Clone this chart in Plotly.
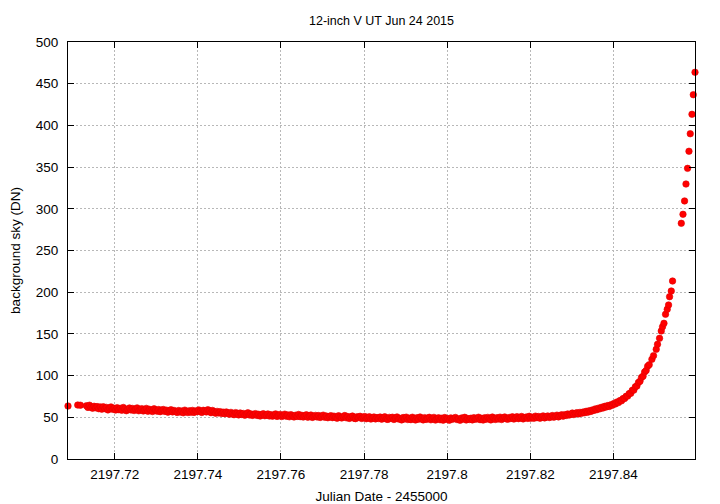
import plotly.graph_objects as go

# Julian Date - 2455000 and background sky (DN)
jd_start = [2197.70875, 2197.71109, 2197.71174]
sky_start = [63.5, 64.7, 64.5]

jd_main = [
    2197.71318, 2197.71355, 2197.71392, 2197.71429, 2197.71466, 2197.71503, 2197.71540, 2197.71577, 2197.71614, 2197.71651,
    2197.71688, 2197.71725, 2197.71762, 2197.71799, 2197.71836, 2197.71873, 2197.71910, 2197.71947, 2197.71984, 2197.72021,
    2197.72058, 2197.72095, 2197.72132, 2197.72169, 2197.72206, 2197.72243, 2197.72280, 2197.72317, 2197.72354, 2197.72391,
    2197.72428, 2197.72465, 2197.72502, 2197.72539, 2197.72576, 2197.72613, 2197.72650, 2197.72687, 2197.72724, 2197.72761,
    2197.72798, 2197.72835, 2197.72872, 2197.72909, 2197.72946, 2197.72983, 2197.73020, 2197.73057, 2197.73094, 2197.73131,
    2197.73168, 2197.73205, 2197.73242, 2197.73279, 2197.73316, 2197.73353, 2197.73390, 2197.73427, 2197.73464, 2197.73501,
    2197.73538, 2197.73575, 2197.73612, 2197.73649, 2197.73686, 2197.73723, 2197.73760, 2197.73797, 2197.73834, 2197.73871,
    2197.73908, 2197.73945, 2197.73982, 2197.74019, 2197.74056, 2197.74093, 2197.74130, 2197.74167, 2197.74204, 2197.74241,
    2197.74278, 2197.74315, 2197.74352, 2197.74389, 2197.74426, 2197.74463, 2197.74500, 2197.74537, 2197.74574, 2197.74611,
    2197.74648, 2197.74685, 2197.74722, 2197.74759, 2197.74796, 2197.74833, 2197.74870, 2197.74907, 2197.74944, 2197.74981,
    2197.75018, 2197.75055, 2197.75092, 2197.75129, 2197.75166, 2197.75203, 2197.75240, 2197.75277, 2197.75314, 2197.75351,
    2197.75388, 2197.75425, 2197.75462, 2197.75499, 2197.75536, 2197.75573, 2197.75610, 2197.75647, 2197.75684, 2197.75721,
    2197.75758, 2197.75795, 2197.75832, 2197.75869, 2197.75906, 2197.75943, 2197.75980, 2197.76017, 2197.76054, 2197.76091,
    2197.76128, 2197.76165, 2197.76202, 2197.76239, 2197.76276, 2197.76313, 2197.76350, 2197.76387, 2197.76424, 2197.76461,
    2197.76498, 2197.76535, 2197.76572, 2197.76609, 2197.76646, 2197.76683, 2197.76720, 2197.76757, 2197.76794, 2197.76831,
    2197.76868, 2197.76905, 2197.76942, 2197.76979, 2197.77016, 2197.77053, 2197.77090, 2197.77127, 2197.77164, 2197.77201,
    2197.77238, 2197.77275, 2197.77312, 2197.77349, 2197.77386, 2197.77423, 2197.77460, 2197.77497, 2197.77534, 2197.77571,
    2197.77608, 2197.77645, 2197.77682, 2197.77719, 2197.77756, 2197.77793, 2197.77830, 2197.77867, 2197.77904, 2197.77941,
    2197.77978, 2197.78015, 2197.78052, 2197.78089, 2197.78126, 2197.78163, 2197.78200, 2197.78237, 2197.78274, 2197.78311,
    2197.78348, 2197.78385, 2197.78422, 2197.78459, 2197.78496, 2197.78533, 2197.78570, 2197.78607, 2197.78644, 2197.78681,
    2197.78718, 2197.78755, 2197.78792, 2197.78829, 2197.78866, 2197.78903, 2197.78940, 2197.78977, 2197.79014, 2197.79051,
    2197.79088, 2197.79125, 2197.79162, 2197.79199, 2197.79236, 2197.79273, 2197.79310, 2197.79347, 2197.79384, 2197.79421,
    2197.79458, 2197.79495, 2197.79532, 2197.79569, 2197.79606, 2197.79643, 2197.79680, 2197.79717, 2197.79754, 2197.79791,
    2197.79828, 2197.79865, 2197.79902, 2197.79939, 2197.79976, 2197.80013, 2197.80050, 2197.80087, 2197.80124, 2197.80161,
    2197.80198, 2197.80235, 2197.80272, 2197.80309, 2197.80346, 2197.80383, 2197.80420, 2197.80457, 2197.80494, 2197.80531,
    2197.80568, 2197.80605, 2197.80642, 2197.80679, 2197.80716, 2197.80753, 2197.80790, 2197.80827, 2197.80864, 2197.80901,
    2197.80938, 2197.80975, 2197.81012, 2197.81049, 2197.81086, 2197.81123, 2197.81160, 2197.81197, 2197.81234, 2197.81271,
    2197.81308, 2197.81345, 2197.81382, 2197.81419, 2197.81456, 2197.81493, 2197.81530, 2197.81567, 2197.81604, 2197.81641,
    2197.81678, 2197.81715, 2197.81752, 2197.81789, 2197.81826, 2197.81863, 2197.81900, 2197.81937, 2197.81974, 2197.82011,
    2197.82048, 2197.82085, 2197.82122, 2197.82159, 2197.82196, 2197.82233, 2197.82270, 2197.82307, 2197.82344, 2197.82381,
    2197.82418, 2197.82455, 2197.82492, 2197.82529, 2197.82566, 2197.82603, 2197.82640, 2197.82677, 2197.82714, 2197.82751,
    2197.82788, 2197.82825, 2197.82862, 2197.82899, 2197.82936, 2197.82973, 2197.83010, 2197.83047, 2197.83084, 2197.83121,
    2197.83158, 2197.83195, 2197.83232, 2197.83269, 2197.83306, 2197.83343, 2197.83380, 2197.83417, 2197.83454, 2197.83491,
    2197.83528, 2197.83565, 2197.83602, 2197.83639, 2197.83676, 2197.83713, 2197.83750, 2197.83787, 2197.83824, 2197.83861,
    2197.83898, 2197.83935, 2197.83972, 2197.84009, 2197.84046, 2197.84083, 2197.84120, 2197.84157, 2197.84194, 2197.84231,
    2197.84268, 2197.84305, 2197.84342, 2197.84379, 2197.84416, 2197.84453, 2197.84490, 2197.84527, 2197.84564, 2197.84601,
    2197.84638, 2197.84675, 2197.84712, 2197.84749, 2197.84786, 2197.84823, 2197.84860,
]
sky_main = [
    63.8, 61.9, 64.5, 62.1, 60.9, 63.2, 61.4, 62.8, 60.3, 62.5,
    59.8, 62.6, 60.4, 61.9, 58.9, 61.2, 62.4, 59.6, 60.8, 58.7,
    61.5, 59.2, 60.7, 58.4, 61.8, 60.1, 57.9, 59.5, 61.2, 58.8,
    60.6, 58.1, 59.9, 61.3, 57.8, 59.2, 60.4, 57.6, 58.9, 60.7,
    57.2, 59.6, 58.1, 56.9, 60.2, 58.7, 57.4, 59.3, 56.8, 58.5,
    59.4, 57.1, 58.6, 56.2, 57.9, 59.1, 56.5, 58.2, 57.0, 55.8,
    58.1, 56.3, 57.5, 55.4, 58.6, 56.9, 55.7, 57.8, 56.1, 58.3,
    55.9, 57.6, 56.8, 58.9, 57.2, 55.8, 58.4, 57.7, 56.4, 59.1,
    57.8, 55.6, 58.2, 56.7, 54.9, 57.1, 55.3, 56.8, 54.6, 56.2,
    54.3, 56.4, 55.1, 53.6, 55.9, 54.2, 53.1, 55.6, 54.8, 52.9,
    55.2, 53.4, 54.6, 52.5, 53.9, 55.4, 52.8, 54.1, 52.3, 53.7,
    54.4, 52.2, 53.6, 51.5, 53.1, 54.3, 51.9, 52.7, 54.0, 51.6,
    53.2, 51.4, 52.9, 54.1, 51.1, 52.6, 53.5, 50.9, 52.2, 53.8,
    51.3, 52.8, 50.6, 53.2, 51.7, 50.4, 52.5, 51.0, 53.4, 50.8,
    52.4, 50.3, 51.8, 53.0, 50.1, 51.6, 52.7, 49.9, 51.2, 52.3,
    50.4, 52.1, 49.8, 51.3, 52.6, 50.0, 51.5, 49.5, 50.9, 52.0,
    49.6, 51.4, 50.2, 48.9, 51.9, 50.5, 49.2, 50.8, 52.1, 49.4,
    50.9, 48.7, 50.3, 51.5, 49.0, 48.4, 50.6, 49.8, 51.2, 48.6,
    49.9, 51.0, 48.3, 49.6, 50.7, 47.9, 49.2, 50.4, 48.1, 49.7,
    48.6, 50.3, 47.8, 49.4, 50.6, 48.0, 47.5, 49.9, 48.8, 50.1,
    47.4, 49.2, 50.4, 47.9, 48.6, 46.9, 49.7, 48.1, 50.2, 47.3,
    48.9, 47.2, 50.1, 48.4, 46.8, 49.5, 47.7, 50.3, 48.2, 46.9,
    49.6, 47.5, 48.8, 50.0, 47.0, 48.5, 49.9, 46.7, 48.3, 49.4,
    47.1, 48.9, 46.6, 49.7, 47.8, 48.4, 46.5, 49.3, 47.6, 48.7,
    49.8, 47.3, 48.1, 46.4, 49.2, 47.9, 50.0, 46.8, 48.6, 47.4,
    48.9, 46.9, 49.6, 47.7, 48.3, 50.1, 47.2, 48.8, 46.7, 49.4,
    47.6, 49.9, 48.2, 46.9, 50.3, 48.5, 47.4, 49.6, 48.0, 50.2,
    47.3, 49.1, 50.4, 48.2, 47.7, 49.8, 48.6, 50.6, 47.9, 49.3,
    50.8, 48.4, 49.7, 51.0, 48.1, 49.5, 50.3, 48.7, 51.2, 49.0,
    50.1, 48.8, 51.4, 49.6, 50.9, 48.9, 50.5, 51.7, 49.3, 50.7,
    51.6, 49.7, 50.4, 52.1, 50.2, 51.3, 52.6, 50.5, 51.9, 53.0,
    51.4, 53.1, 52.2, 54.0, 52.7, 53.6, 55.1, 53.3, 54.7, 55.6,
    54.1, 55.9, 54.8, 56.3, 55.5, 57.2, 56.1, 57.9, 57.0, 58.8,
    58.2, 60.1, 59.1, 61.0, 60.2, 62.0, 61.2, 63.1, 62.3, 64.0,
    63.0, 64.9, 64.4, 66.6, 66.0, 68.3, 67.6, 70.1, 69.8, 72.4,
    72.5, 75.2, 75.4, 78.4, 78.7, 82.3, 82.6, 86.6, 87.5, 91.8,
    93.2, 97.8, 99.3, 104.2, 106.1, 111.3, 113.0,
]

jd_rise = [2197.84925, 2197.84964, 2197.85029, 2197.85060, 2197.85109, 2197.85150, 2197.85181,
           2197.85215, 2197.85253, 2197.85294, 2197.85326, 2197.85350, 2197.85391, 2197.85422]
sky_rise = [119.5, 123.9, 131.5, 137.5, 144.7, 153.5, 158.6, 162.7, 173.5, 179.5, 184.7, 194.6, 201.4, 213.4]

jd_tail = [2197.85632, 2197.85673, 2197.85711, 2197.85745, 2197.85783,
           2197.85817, 2197.85848, 2197.85889, 2197.85921, 2197.85962]
sky_tail = [282.6, 293.4, 309.4, 329.7, 348.5, 369.0, 390.0, 413.3, 436.8, 463.7]

x_ticks = [2197.72, 2197.74, 2197.76, 2197.78, 2197.8, 2197.82, 2197.84]
x_tick_labels = ["2197.72", "2197.74", "2197.76", "2197.78", "2197.8", "2197.82", "2197.84"]
y_ticks = [0, 50, 100, 150, 200, 250, 300, 350, 400, 450, 500]

jd = jd_start + jd_main + jd_rise + jd_tail
sky = sky_start + sky_main + sky_rise + sky_tail

FONT = "Liberation Sans, Arial, sans-serif"

# the page body has an 8 px margin, so the figure is 8 px smaller each way
W, H = 712, 496

fig = go.Figure()
fig.add_trace(go.Scatter(
    x=jd, y=sky, mode="markers",
    marker=dict(color="#ff0000", size=6.5, line=dict(color="#e00000", width=0.6)),
    cliponaxis=False, showlegend=False,
))

axis_common = dict(
    showline=True, linecolor="black", linewidth=1, mirror="ticks",
    ticks="inside", ticklen=6, tickcolor="black", tickwidth=1,
    showgrid=True, gridcolor="#b8b8b8", gridwidth=1, griddash="2px,2px",
    zeroline=False, automargin=False,
    tickfont=dict(family=FONT, size=13.5, color="black"),
)

fig.update_layout(
    width=W, height=H,
    margin=dict(l=60, r=25, t=34, b=45, autoexpand=False),
    paper_bgcolor="white", plot_bgcolor="white",
    font=dict(family=FONT, color="black"),
    title=dict(text="12-inch V UT Jun 24 2015", x=0.5, xref="paper", xanchor="center",
               y=1 - 13 / H, yref="container", yanchor="middle",
               font=dict(family=FONT, size=12.5, color="black")),
    xaxis=dict(range=[jd_start[0], jd_tail[-1]], tickvals=x_ticks, ticktext=x_tick_labels,
               ticklabelstandoff=3,
               title=dict(text="Julian Date - 2455000", font=dict(family=FONT, size=13.5), standoff=10),
               **axis_common),
    yaxis=dict(range=[0, 500], tickvals=y_ticks, ticklabelstandoff=6,
               title=dict(text="background sky (DN)", font=dict(family=FONT, size=13.5), standoff=14),
               **axis_common),
)

fig.write_html("out.html")
